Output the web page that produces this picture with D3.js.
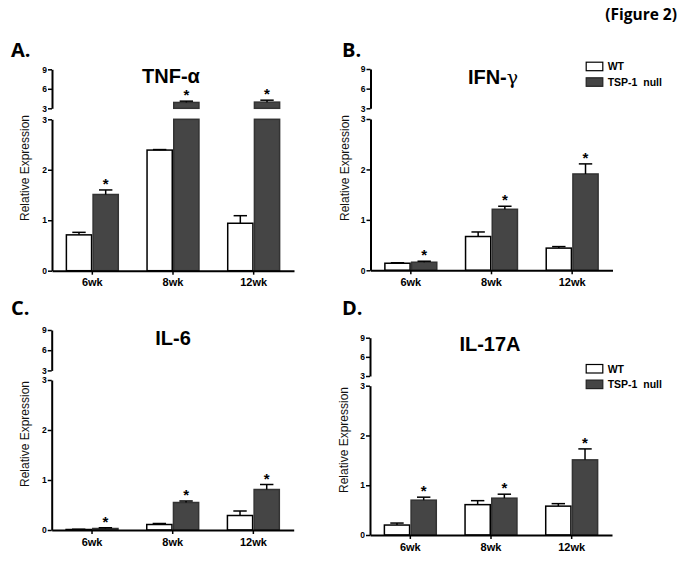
<!DOCTYPE html>
<html><head><meta charset="utf-8">
<script src="https://cdn.jsdelivr.net/npm/d3@7"></script>
<style>
body{margin:0;background:#fff;}
svg{display:block;}
text{font-family:"Liberation Sans",Arial,sans-serif;}
</style></head>
<body><svg id="c" width="683" height="569"></svg>
<script>
// ---- data ----
const categories = ["6wk", "8wk", "12wk"];
const seriesNames = ["WT", "TSP-1  null"];
const lowerTicks = [0, 1, 2, 3];
const upperTicks = [3, 6, 9];

const tnfWT = [0.71, 2.39, 0.94];
const tnfWTErr = [0.05, 0.01, 0.15];
const tnfKO = [1.51, 3.9, 3.95];
const tnfKOErr = [0.09, 0.2, 0.3];

const ifnWT = [0.14, 0.67, 0.44];
const ifnWTErr = [0.01, 0.09, 0.03];
const ifnKO = [0.16, 1.21, 1.91];
const ifnKOErr = [0.02, 0.06, 0.2];

const il6WT = [0.01, 0.11, 0.29];
const il6WTErr = [0.005, 0.02, 0.09];
const il6KO = [0.03, 0.55, 0.81];
const il6KOErr = [0.015, 0.03, 0.1];

const il17WT = [0.2, 0.61, 0.58];
const il17WTErr = [0.04, 0.08, 0.05];
const il17KO = [0.70, 0.74, 1.51];
const il17KOErr = [0.06, 0.08, 0.22];

const significant = [true, true, true];

// ---- drawing ----
const svg = d3.select("#c");
const KO_FILL = "#454545";

const panels = [
  {letter:"A.", lx:11, ly:57, title:"TNF-α", tx:171, ty:83, ax:52, u9:69.3, u3:108.3, l3:119.3, y0:270.7,
   ylx:25, yly:168, wt:tnfWT, wtE:tnfWTErr, ko:tnfKO, koE:tnfKOErr, legend:null},
  {letter:"B.", lx:342, ly:57, title:"IFN-", greek:"γ", tx:493, ty:84, ax:370.5, u9:69, u3:108.3, l3:119, y0:270.3,
   ylx:345, yly:168, wt:ifnWT, wtE:ifnWTErr, ko:ifnKO, koE:ifnKOErr, legend:{x:585.7, y:61.7}},
  {letter:"C.", lx:11, ly:315, title:"IL-6", tx:173, ty:345, ax:51.7, u9:330, u3:370.4, l3:380, y0:530,
   ylx:25, yly:434, wt:il6WT, wtE:il6WTErr, ko:il6KO, koE:il6KOErr, legend:null},
  {letter:"D.", lx:342, ly:315, title:"IL-17A", tx:490, ty:351, ax:370, u9:337.7, u3:376, l3:385.7, y0:535,
   ylx:344, yly:440, wt:il17WT, wtE:il17WTErr, ko:il17KO, koE:il17KOErr, legend:{x:585.7, y:364}}
];

svg.append("text").attr("x", 677).attr("y", 20).attr("text-anchor", "end")
  .style("font-family", "'Open Sans',sans-serif").style("font-weight", "700").style("font-size", "15.5px")
  .text("(Figure 2)");

panels.forEach(p => {
  const g = svg.append("g");
  const x0 = d3.scaleBand().domain(categories).range([p.ax, p.ax + 242]).paddingInner(0.338).paddingOuter(0.169);
  const x1 = d3.scaleBand().domain(seriesNames).range([0, x0.bandwidth()]);
  const yL = d3.scaleLinear().domain([0, 3]).range([p.y0, p.l3]);
  const yU = d3.scaleLinear().domain([3, 9]).range([p.u3, p.u9]);

  g.append("text").attr("x", p.lx).attr("y", p.ly)
    .style("font-family", "'Open Sans',sans-serif").style("font-weight", "700").style("font-size", "20px")
    .text(p.letter);
  const t = g.append("text").attr("x", p.tx).attr("y", p.ty).attr("text-anchor", "middle")
    .style("font-weight", "700").style("font-size", "20px").text(p.title);
  if (p.greek) t.append("tspan").style("font-weight", "400").style("font-family", "'DejaVu Serif',serif").style("font-size", "19px").text(p.greek);

  g.append("text").attr("transform", `translate(${p.ylx},${p.yly}) rotate(-90)`)
    .attr("text-anchor", "middle").attr("dy", "0.35em")
    .style("font-size", "12px").style("fill", "#111").text("Relative Expression");

  const rows = categories.map((c, i) => [
    {cat:c, s:seriesNames[0], v:p.wt[i], e:p.wtE[i], ko:false},
    {cat:c, s:seriesNames[1], v:p.ko[i], e:p.koE[i], ko:true, sig:significant[i]}
  ]).flat();

  rows.forEach(d => {
    const bx = x0(d.cat) + x1(d.s);
    const bw = x1.bandwidth();
    const lowTop = yL(Math.min(d.v, 3));
    g.append("rect").attr("x", bx + 0.75).attr("y", lowTop).attr("width", bw - 1.5).attr("height", yL(0) - lowTop)
      .attr("fill", d.ko ? KO_FILL : "#fff").attr("stroke", d.ko ? "#333" : "#000").attr("stroke-width", 1.5);
    let topY, errY;
    if (d.v > 3) {
      const ut = yU(d.v);
      g.append("rect").attr("x", bx + 0.75).attr("y", ut).attr("width", bw - 1.5).attr("height", yU(3) - ut)
        .attr("fill", KO_FILL).attr("stroke", "#333").attr("stroke-width", 1.5);
      topY = ut; errY = yU(d.v + d.e);
    } else {
      topY = lowTop; errY = yL(d.v + d.e);
    }
    const cx = bx + bw / 2;
    g.append("line").attr("x1", cx).attr("x2", cx).attr("y1", topY).attr("y2", errY)
      .attr("stroke", "#000").attr("stroke-width", 1.5);
    g.append("line").attr("x1", cx - 6.7).attr("x2", cx + 6.7).attr("y1", errY).attr("y2", errY)
      .attr("stroke", "#000").attr("stroke-width", 1.5);
    if (d.ko && d.sig) {
      g.append("text").attr("x", cx).attr("y", errY - 1).attr("text-anchor", "middle")
        .style("font-weight", "700").style("font-size", "15px").text("*");
    }
  });

  const styleAxis = sel => {
    sel.select(".domain").style("stroke", "#000").style("stroke-width", "2px").style("fill", "none");
    sel.selectAll(".tick line").style("stroke", "#000").style("stroke-width", "1.5px");
  };
  const axL = g.append("g").attr("transform", `translate(${p.ax},0)`)
    .call(d3.axisLeft(yL).tickValues(lowerTicks).tickFormat(d3.format("d")).tickSize(4).tickSizeOuter(0).tickPadding(1));
  const axU = g.append("g").attr("transform", `translate(${p.ax},0)`)
    .call(d3.axisLeft(yU).tickValues(upperTicks).tickFormat(d3.format("d")).tickSize(4).tickSizeOuter(0).tickPadding(1));
  [axL, axU].forEach(a => {
    styleAxis(a);
    a.selectAll("text").style("font-family", "'Liberation Sans',Arial,sans-serif")
      .style("font-weight", "700").style("font-size", "8.5px").style("fill", "#000");
  });
  const axX = g.append("g").attr("transform", `translate(0,${p.y0})`)
    .call(d3.axisBottom(x0).tickSize(4).tickSizeOuter(0).tickPadding(4));
  styleAxis(axX);
  axX.selectAll("text").style("font-family", "'Liberation Sans',Arial,sans-serif")
    .style("font-weight", "700").style("font-size", "11px").style("fill", "#000");

  if (p.legend) {
    const lg = g.append("g").attr("transform", `translate(${p.legend.x},${p.legend.y})`);
    seriesNames.forEach((s, i) => {
      lg.append("rect").attr("x", 0.5).attr("y", i * 15.6 + 0.5).attr("width", 16.6).attr("height", 8.5)
        .attr("fill", i ? KO_FILL : "#fff").attr("stroke", i ? "#222" : "#000").attr("stroke-width", 1.2);
      lg.append("text").attr("x", 22).attr("y", i * 15.6 + 8.5)
        .style("font-weight", "700").style("font-size", "10.5px").style("white-space", "pre").text(s);
    });
  }
});
</script></body></html>
